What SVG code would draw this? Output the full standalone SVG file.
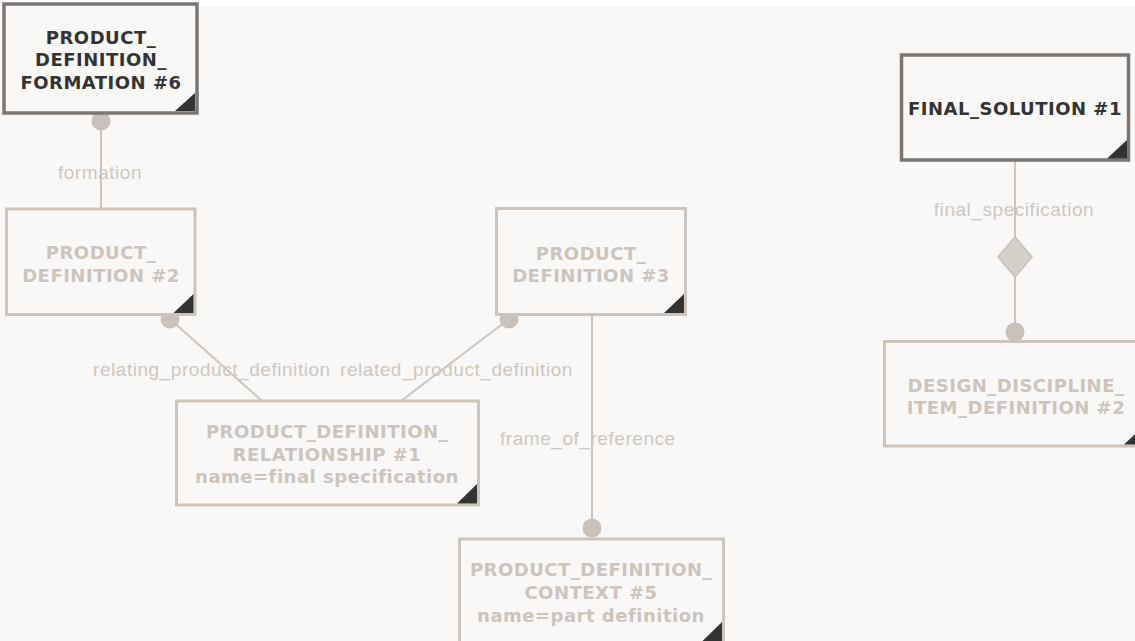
<svg xmlns="http://www.w3.org/2000/svg" width="1135" height="641" viewBox="0 0 1135 641">
<style>
.bg{fill:#f9f8f7}
.box{fill:#f9f8f7;stroke:#ccc4bd;stroke-width:3}
.box.dark{stroke:#7c7672;stroke-width:3.5}
.corner{fill:#333333}
.nt{font-family:"DejaVu Sans",Verdana,sans-serif;font-weight:bold;font-size:18px;letter-spacing:0.5px;fill:#ccc4bd;text-anchor:middle}
.nt.dark{fill:#333333}
.lbl{font-family:"Liberation Sans",Arial,sans-serif;font-size:19px;fill:#cec7c1;letter-spacing:0.55px}
.ln{stroke:#ccc4bd;stroke-width:2;fill:none}
.dot{fill:#c9c1ba}
.dia{fill:#d6d0cb;stroke:#c8c0b9;stroke-width:1.5}
</style>
<rect x="0" y="0" width="1135" height="641" fill="#ffffff"/>
<rect class="bg" x="0" y="7" width="1135" height="634"/>
<g id="connectors">
<line class="ln" x1="101" y1="121" x2="101" y2="209"/>
<circle class="dot" cx="101" cy="121" r="9.5"/>
<text class="lbl" x="100" y="179" text-anchor="middle">formation</text>
<line class="ln" x1="170" y1="319" x2="262" y2="401"/>
<circle class="dot" cx="170" cy="319" r="9.5"/>
<text class="lbl" x="93" y="376">relating_product_definition</text>
<line class="ln" x1="509" y1="319" x2="401" y2="401"/>
<circle class="dot" cx="509" cy="319" r="9.5"/>
<text class="lbl" x="340" y="376">related_product_definition</text>
<line class="ln" x1="592" y1="315" x2="592" y2="528"/>
<circle class="dot" cx="592" cy="528" r="9.5"/>
<text class="lbl" x="500" y="445">frame_of_reference</text>
<line class="ln" x1="1015" y1="161" x2="1015" y2="332"/>
<polygon class="dia" points="1015,237 1032,257 1015,277 998,257"/>
<circle class="dot" cx="1015" cy="332" r="9.5"/>
<text class="lbl" x="1014" y="216" text-anchor="middle">final_specification</text>
</g>
<g id="node-pdf6">
<rect class="box dark" x="4" y="4" width="193" height="109"/>
<polygon class="corner" points="195,93 195,111 175,111"/>
<text class="nt dark" x="101" y="44">PRODUCT_</text>
<text class="nt dark" x="101" y="66">DEFINITION_</text>
<text class="nt dark" x="101" y="89">FORMATION #6</text>
</g>
<g id="node-pd2">
<rect class="box" x="6.5" y="209" width="188.5" height="105.5"/>
<polygon class="corner" points="193.5,294 193.5,313 173.5,313"/>
<text class="nt" x="101" y="259">PRODUCT_</text>
<text class="nt" x="101" y="282">DEFINITION #2</text>
</g>
<g id="node-pd3">
<rect class="box" x="496.5" y="208.5" width="189" height="106"/>
<polygon class="corner" points="684,294 684,313 664,313"/>
<text class="nt" x="591" y="260">PRODUCT_</text>
<text class="nt" x="591" y="282">DEFINITION #3</text>
</g>
<g id="node-pdr1">
<rect class="box" x="176.5" y="401" width="302" height="104"/>
<polygon class="corner" points="477,484 477,503.5 457,503.5"/>
<text class="nt" x="327" y="438">PRODUCT_DEFINITION_</text>
<text class="nt" x="327" y="461">RELATIONSHIP #1</text>
<text class="nt" x="327" y="483">name=final specification</text>
</g>
<g id="node-pdc5">
<rect class="box" x="459.5" y="539" width="264" height="104"/>
<polygon class="corner" points="722,622 722,641.5 702,641.5"/>
<text class="nt" x="591" y="576">PRODUCT_DEFINITION_</text>
<text class="nt" x="591" y="599">CONTEXT #5</text>
<text class="nt" x="591" y="622">name=part definition</text>
</g>
<g id="node-fs1">
<rect class="box dark" x="901.5" y="55" width="227" height="105"/>
<polygon class="corner" points="1127,140 1127,158.5 1107,158.5"/>
<text class="nt dark" x="1015" y="115">FINAL_SOLUTION #1</text>
</g>
<g id="node-ddid2">
<rect class="box" x="884.5" y="341.5" width="261" height="104.5"/>
<polygon class="corner" points="1144,426 1144,444.5 1124,444.5"/>
<text class="nt" x="1016" y="392">DESIGN_DISCIPLINE_</text>
<text class="nt" x="1016" y="414">ITEM_DEFINITION #2</text>
</g>
</svg>
